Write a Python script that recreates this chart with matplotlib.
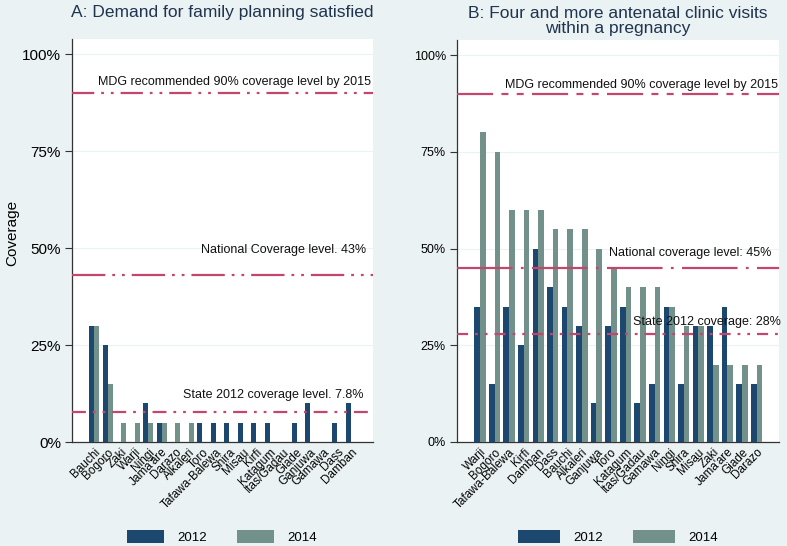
import numpy as np
import matplotlib
matplotlib.use('Agg')
import matplotlib.pyplot as plt

plt.rcParams['font.family'] = ['Liberation Sans', 'DejaVu Sans']
plt.rcParams['lines.scale_dashes'] = False

# Panel A: demand for family planning satisfied (%)
districts_a = ["Bauchi", "Bogoro", "Zaki", "Warji", "Ningi", "Jama'are", "Darazo",
               "Alkaleri", "Toro", "Tafawa-Balewa", "Shira", "Misau", "Kirfi",
               "Katagum", "Itas/Gadau", "Giade", "Ganjuwa", "Gamawa", "Dass", "Damban"]
fp_2012 = [30, 25, 0, 0, 10, 5, 0, 0, 5, 5, 5, 5, 5, 5, 0, 5, 10, 0, 5, 10]
fp_2014 = [30, 15, 5, 5, 5, 5, 5, 5, 0, 0, 0, 0, 0, 0, 0, 0, 0, 0, 0, 0]

# Panel B: four and more ANC visits (%)
districts_b = ["Warji", "Bogoro", "Tafawa-Balewa", "Kirfi", "Damban", "Dass", "Bauchi",
               "Alkaleri", "Ganjuwa", "Toro", "Katagum", "Itas/Gadau", "Gamawa", "Ningi",
               "Shira", "Misau", "Zaki", "Jama'are", "Giade", "Darazo"]
anc_2012 = [35, 15, 35, 25, 50, 40, 35, 30, 10, 30, 35, 10, 15, 35, 15, 30, 30, 35, 15, 15]
anc_2014 = [80, 75, 60, 60, 60, 55, 55, 55, 50, 45, 40, 40, 40, 35, 30, 30, 20, 20, 20, 20]

# reference lines: (value, label)
ref_a = [(90, "MDG recommended 90% coverage level by 2015"),
         (43, "National Coverage level. 43%"),
         (7.8, "State 2012 coverage level. 7.8%")]
ref_b = [(90, "MDG recommended 90% coverage level by 2015"),
         (45, "National coverage level: 45%"),
         (28, "State 2012 coverage: 28%")]

C12 = '#1c486f'
C14 = '#72918a'
BG = '#eaf2f3'
REF = '#c4466c'
TITLE = '#1f344f'

W, H = 787, 546


def px_axes(fig, left, right, top, bottom):
    return fig.add_axes([left / W, 1 - bottom / H, (right - left) / W, (bottom - top) / H])


def draw_panel(ax, names, v12, v14, refs, xlim, bw, tick_fs, ref_style, text_pos):
    x = np.arange(len(names))
    ax.bar(x - bw / 2, v12, width=bw, color=C12, label='2012', zorder=3)
    ax.bar(x + bw / 2, v14, width=bw, color=C14, label='2014', zorder=3)
    ax.set_xlim(*xlim)
    ax.set_ylim(0, 103.9)
    ax.set_yticks([0, 25, 50, 75, 100])
    ax.set_yticklabels(['0%', '25%', '50%', '75%', '100%'], fontsize=tick_fs)
    ax.set_xticks(x)
    ax.set_xticklabels(names, rotation=45, ha='right', rotation_mode='anchor', fontsize=8.5)
    ax.tick_params(axis='x', length=0, pad=3)
    ax.tick_params(axis='y', length=5, width=0.8, color='#333333', pad=3)
    ax.grid(axis='y', color=BG, lw=0.8, zorder=0)
    for s in ['top', 'right']:
        ax.spines[s].set_visible(False)
    for s in ['left', 'bottom']:
        ax.spines[s].set_color('#333333')
        ax.spines[s].set_linewidth(0.9)
    for (val, lab), dash, (tx, ty) in zip(refs, ref_style, text_pos):
        ln, = ax.plot(xlim, [val, val], color=REF, lw=1.6, zorder=4)
        ln.set_dashes(dash)
        ax.text(tx, ty, lab, ha='right', va='center', fontsize=9, color='#111111', zorder=5)


fig = plt.figure(figsize=(W / 100, H / 100), dpi=100, facecolor=BG)

# ---- panel A
ax1 = px_axes(fig, 72, 373, 39, 442)
draw_panel(ax1, districts_a, fp_2012, fp_2014, ref_a, (-1.65, 20.66), 0.37, 11,
           [(16, 5, 2, 5, 2, 5), (24, 5, 2, 5, 2, 5), (10, 5, 2, 5, 2, 5)],
           [(20.51, 92.8), (20.14, 49.6), (19.92, 12.1)])
ax1.set_ylabel('Coverage', fontsize=11)
ax1.yaxis.set_label_coords(-0.175, 0.52)
fig.text(222 / W, 1 - 12 / H, 'A: Demand for family planning satisfied',
         ha='center', va='center', fontsize=12.5, color=TITLE)
ax1.legend(loc='center', bbox_to_anchor=(222 / W, 1 - 537 / H), bbox_transform=fig.transFigure,
           ncol=2, frameon=False, fontsize=9.5, handlelength=2.8, handleheight=1.1,
           handletextpad=1.0, columnspacing=2.3)

# ---- panel B
ax2 = px_axes(fig, 457, 779, 40, 442)
draw_panel(ax2, districts_b, anc_2012, anc_2014, ref_b, (-1.58, 20.54), 0.39, 9,
           [(26, 6, 5, 6, 5, 6), (40, 6, 2, 6), (8, 5, 2, 5, 2, 5)],
           [(20.47, 92.2), (19.99, 48.8), (20.67, 31.0)])
fig.text(618 / W, 1 - 21 / H, 'B: Four and more antenatal clinic visits\nwithin a pregnancy',
         ha='center', va='center', fontsize=12.5, color=TITLE, linespacing=1.05)
ax2.legend(loc='center', bbox_to_anchor=(618 / W, 1 - 537 / H), bbox_transform=fig.transFigure,
           ncol=2, frameon=False, fontsize=9.5, handlelength=3.2, handleheight=1.1,
           handletextpad=1.0, columnspacing=2.3)

fig.savefig('out.png', dpi=100, facecolor=BG)
